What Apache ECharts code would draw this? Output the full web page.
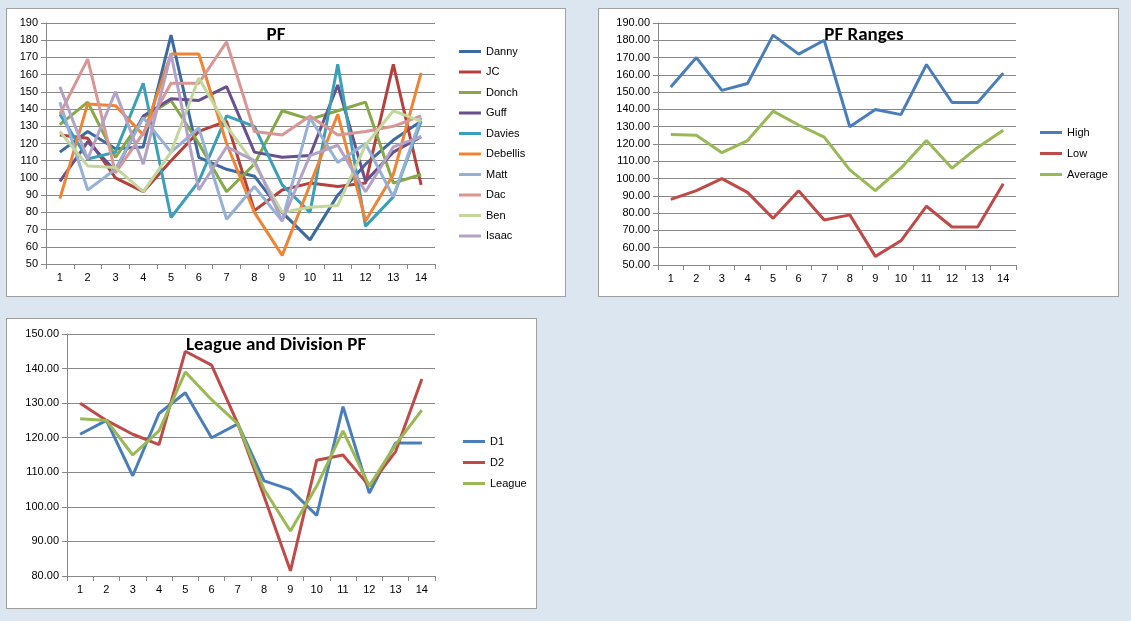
<!DOCTYPE html>
<html><head><meta charset="utf-8">
<script src="https://cdn.jsdelivr.net/npm/echarts@6/dist/echarts.min.js"></script>
<style>
body{margin:0;background:#dce6f0;width:1131px;height:621px;position:relative;overflow:hidden;font-family:Calibri,"Liberation Sans",Arial,sans-serif}
.p{position:absolute;background:#fff;border:1px solid #a0a0a0}
</style></head><body>
<div class="p" id="c1" style="left:6px;top:8px;width:558px;height:287px"></div>
<div class="p" id="c2" style="left:598px;top:8px;width:519px;height:287px"></div>
<div class="p" id="c3" style="left:6px;top:318px;width:529px;height:289px"></div>
<script>
var weeks = ['1','2','3','4','5','6','7','8','9','10','11','12','13','14'];
var owners = ['Danny','JC','Donch','Guff','Davies','Debellis','Matt','Dac','Ben','Isaac'];
var danny    = [115,127,117,118,183,112,105,101,80,64,90,108,122,133];
var jc       = [125,123,100,92,110,127,133,81,93,97,95,97,166,96];
var donch    = [131,144,112,135,145,120,92,108,139,134,139,144,97,102];
var guff     = [98,121,104,136,146,145,153,115,112,113,154,98,115,124];
var davies   = [137,111,115,155,77,98,136,130,96,80,166,72,89,133];
var debellis = [88,143,142,125,172,172,120,80,55,96,137,75,102,161];
var matt     = [144,93,105,135,115,129,76,95,75,135,109,120,89,135];
var dac      = [137,169,103,126,155,155,179,127,125,136,125,127,130,136];
var ben      = [127,107,106,92,115,158,130,108,80,83,84,119,139,133];
var isaac    = [153,111,150,108,172,93,118,110,75,113,119,92,118,124];
var high    = [153,170,151,155,183,172,180,130,140,137,166,144,144,161];
var low     = [88,93,100,92,77,93,76,79,55,64,84,72,72,97];
var average = [125.5,125,115,122,139,131,124,105,93,106,122,106,118,128];
var d1 = [121,125,109,127,133,120,124,107.5,105,97.5,129,104,118.5,118.5];
var d2 = [130,125,121,118,145,141,124,103,81.5,113.5,115,106,116,137];
var league = [125.5,125,115,122,139,131,124,105,93,106,122,106,118,128];

var ownerData = [danny,jc,donch,guff,davies,debellis,matt,dac,ben,isaac];
var ownerColors = ['#3d6aa0','#b5403d','#86a846','#6a4f8e','#3aa0b8','#f08434','#95b1d6','#d99694','#c3d69b','#b3a2c7'];

function base(grid, title, titleX, titleY, min, max, interval, dec, legendLeft, legendTop, gap) {
  return {
    animation: false,
    title: {text: title, left: titleX, top: titleY, textAlign: 'center',
      textStyle: {fontSize: 19, fontWeight: 'bold', color: '#000', fontFamily: 'Calibri,"Liberation Sans",sans-serif'}},
    grid: grid,
    legend: {orient: 'vertical', left: legendLeft, top: legendTop, itemGap: gap, icon: 'rect',
      itemWidth: 22, itemHeight: 3, textStyle: {fontSize: 11, color: '#000'}},
    xAxis: {type: 'category', data: weeks, boundaryGap: true,
      axisLine: {lineStyle: {color: '#888'}}, axisTick: {show: true, lineStyle: {color: '#888'}},
      axisLabel: {color: '#000', fontSize: 11}},
    yAxis: {type: 'value', min: min, max: max, interval: interval,
      axisLine: {show: true, lineStyle: {color: '#888'}}, axisTick: {show: true, lineStyle: {color: '#888'}},
      axisLabel: {color: '#000', fontSize: 11, formatter: function (v) { return v.toFixed(dec); }},
      splitLine: {lineStyle: {color: '#888'}}},
    series: []
  };
}
function line(name, data, color) {
  return {name: name, type: 'line', data: data, symbol: 'none', lineStyle: {width: 3, color: color}, itemStyle: {color: color}};
}

var o1 = base({left: 39, top: 14, width: 389, height: 241}, 'PF', 264, 12, 50, 190, 10, 0, 447, 32, 9.5);
o1.series = owners.map(function (n, i) { return line(n, ownerData[i], ownerColors[i]); });
echarts.init(document.getElementById('c1')).setOption(o1);

var o2 = base({left: 59, top: 14, width: 358, height: 242}, 'PF Ranges', 260, 12, 50, 190, 10, 2, 436, 113, 10);
o2.series = [line('High', high, '#4a7ebb'), line('Low', low, '#be4b48'), line('Average', average, '#98b954')];
echarts.init(document.getElementById('c2')).setOption(o2);

var o3 = base({left: 60, top: 15, width: 368, height: 242}, 'League and Division PF', 264, 12, 80, 150, 10, 2, 451, 112, 10);
o3.series = [line('D1', d1, '#4a7ebb'), line('D2', d2, '#be4b48'), line('League', league, '#98b954')];
echarts.init(document.getElementById('c3')).setOption(o3);
</script></body></html>
